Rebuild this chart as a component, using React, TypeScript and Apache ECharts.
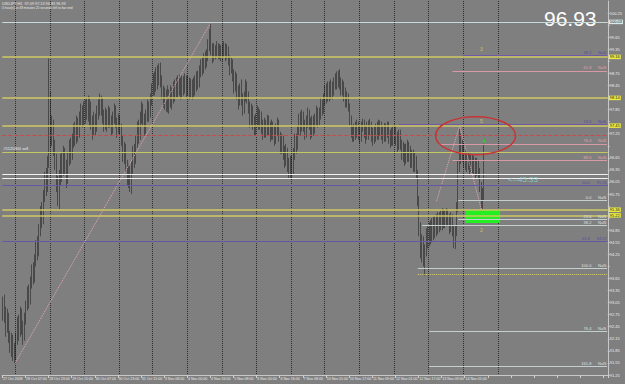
import React, { useEffect, useRef } from "react";
import * as echarts from "echarts";

// x-axis tick labels, one every 16 hourly bars
const tickLabels = [
  "27 Oct 2008", "28 Oct 07:00", "28 Oct 23:00", "29 Oct 15:00", "30 Oct 07:00", "30 Oct 23:00",
  "31 Oct 15:00", "3 Nov 08:00", "4 Nov 00:00", "4 Nov 16:00", "5 Nov 08:00", "6 Nov 00:00",
  "6 Nov 16:00", "7 Nov 08:00", "10 Nov 01:00", "10 Nov 17:00", "11 Nov 09:00", "12 Nov 01:00",
  "12 Nov 17:00", "13 Nov 09:00", "14 Nov 01:00",
];

// USDJPY H1 candles: [open, close, low, high]
const week1 = [
  [92.95,93.10,92.60,93.20],[93.10,92.80,92.55,93.25],[92.80,92.45,92.20,92.95],[92.45,92.70,92.30,92.90],
  [92.70,92.20,92.05,92.80],[92.20,91.95,91.80,92.35],[91.95,92.15,91.70,92.30],[92.15,91.80,91.60,92.25],
  [91.80,91.70,91.52,92.05],[91.70,92.10,91.62,92.30],[92.10,92.55,92.00,92.70],[92.55,92.30,92.10,92.75],
  [92.30,92.75,92.20,92.95],[92.75,92.45,92.25,92.90],[92.45,92.20,92.00,92.60],[92.20,92.60,92.10,92.80],
  [92.60,92.95,92.50,93.10],[92.95,93.30,92.85,93.45],[93.30,93.10,92.90,93.50],[93.10,93.55,93.00,93.70],
  [93.55,93.85,93.40,94.00],[93.85,93.65,93.50,94.05],[93.65,94.10,93.55,94.25],[94.10,94.45,93.95,94.60],
  [94.45,94.30,94.10,94.70],[94.30,94.85,94.20,95.00],[94.85,95.30,94.70,95.45],[95.30,95.10,94.90,95.55],
  [95.10,95.70,95.00,95.85],[95.70,96.15,95.55,96.30],[96.15,95.90,95.70,96.40],[95.90,96.55,95.80,96.70],
  [96.55,97.95,96.40,99.12],[97.95,97.15,96.90,98.30],[97.15,97.45,96.95,97.70],[97.45,96.95,96.70,97.60],
  [96.95,96.60,96.35,97.10],[96.60,96.05,95.80,96.75],[96.05,95.70,95.45,96.20],[95.70,96.20,95.37,96.35],
  [96.20,96.55,95.95,96.75],[96.55,96.30,96.05,96.80],[96.30,96.75,96.20,96.95],[96.75,96.45,96.25,96.90],
  [96.45,96.10,95.90,96.60],[96.10,96.60,96.00,96.80],[96.60,96.95,96.45,97.10],[96.95,96.70,96.50,97.15],
  [96.70,97.05,96.60,97.25],[97.05,97.35,96.90,97.50],[97.35,97.10,96.95,97.55],[97.10,97.50,97.00,97.70],
  [97.50,97.25,97.05,97.65],[97.25,97.60,97.15,97.80],[97.60,97.85,97.45,98.00],[97.85,97.55,97.40,97.95],
  [97.55,97.90,97.45,98.05],[97.90,97.70,97.50,98.10],[97.70,98.00,97.60,98.15],[98.00,97.80,97.55,98.20],
  [97.80,97.95,97.45,98.17],[97.95,97.55,97.35,98.05],[97.55,97.30,97.10,97.70],[97.30,97.65,97.20,97.80],
  [97.65,97.40,97.20,97.75],[97.40,97.75,97.30,97.95],[97.75,98.00,97.60,98.10],[98.00,97.85,97.70,98.25],
  [97.85,98.05,97.70,98.20],[98.05,97.70,97.50,98.15],[97.70,97.45,97.30,97.85],[97.45,97.70,97.35,97.90],
  [97.70,97.50,97.30,97.85],[97.50,97.80,97.40,97.95],[97.80,97.60,97.40,97.90],[97.60,97.35,97.20,97.70],
  [97.35,97.65,97.25,97.80],[97.65,97.85,97.50,98.00],[97.85,97.55,97.40,97.95],[97.55,97.35,97.15,97.65],
  [97.35,97.60,97.25,97.75],[97.60,97.40,97.20,97.70],[97.40,97.10,96.95,97.50],[97.10,96.70,96.55,97.20],
  [96.70,96.95,96.50,97.05],[96.95,96.50,96.30,97.00],[96.50,96.10,95.95,96.60],[96.10,96.35,95.90,96.50],
  [96.35,95.95,95.80,96.45],[95.95,96.40,95.75,96.55],[96.40,96.80,96.25,96.95],[96.80,96.60,96.40,97.00],
  [96.60,97.05,96.50,97.20],[97.05,97.40,96.90,97.55],[97.40,97.20,97.00,97.60],[97.20,97.65,97.10,97.80],
  [97.65,97.90,97.50,98.05],[97.90,97.60,97.45,98.00],[97.60,97.35,97.20,97.75],[97.35,97.70,97.25,97.85],
  [97.70,97.95,97.55,98.10],[97.95,97.75,97.55,98.05],[97.75,98.10,97.65,98.25],[98.10,98.35,97.95,98.50],
];
const week2 = [
  [98.35,98.60,98.20,98.75],[98.60,98.40,98.20,98.80],[98.40,98.75,98.30,98.90],[98.75,98.55,98.35,98.95],
  [98.55,98.85,98.45,99.00],[98.85,98.60,98.40,99.02],[98.60,98.30,98.10,98.70],[98.30,98.05,97.90,98.45],
  [98.05,98.25,97.85,98.40],[98.25,97.95,97.80,98.35],[97.95,98.20,97.78,98.45],[98.20,98.00,97.75,98.35],
  [98.00,98.30,97.90,98.45],[98.30,98.10,97.85,98.40],[98.10,98.40,98.00,98.55],[98.40,98.25,98.05,98.60],
  [98.25,98.50,98.15,98.65],[98.50,98.35,98.15,98.70],[98.35,98.55,98.20,98.72],[98.55,98.30,98.10,98.65],
  [98.30,98.50,98.15,98.70],[98.50,98.40,98.20,98.68],[98.40,98.60,98.25,98.75],[98.60,98.35,98.15,98.70],
  [98.35,98.55,98.20,98.70],[98.55,98.30,98.10,98.65],[98.30,98.45,98.15,98.62],[98.45,98.25,98.10,98.60],
  [98.25,98.50,98.15,98.65],[98.50,98.40,98.20,98.70],[98.40,98.65,98.30,98.80],[98.65,98.50,98.35,98.82],
  [98.50,98.80,98.40,98.95],[98.80,99.00,98.65,99.10],[99.00,98.85,98.70,99.15],[98.85,99.10,98.75,99.25],
  [99.10,99.00,98.85,99.30],[99.00,99.20,98.90,99.35],[99.20,99.45,99.05,99.60],[99.45,99.70,99.30,99.85],
  [99.70,99.35,99.20,100.03],[99.35,99.15,99.00,99.50],[99.15,99.35,99.05,99.50],[99.35,99.25,99.10,99.45],
  [99.25,99.40,99.15,99.55],[99.40,99.20,99.10,99.50],[99.20,99.35,99.10,99.48],[99.35,99.15,99.05,99.45],
  [99.15,99.30,99.05,99.50],[99.30,99.40,99.15,99.55],[99.40,99.20,99.05,99.50],[99.20,99.35,99.10,99.48],
  [99.35,99.10,98.95,99.42],[99.10,98.85,98.70,99.20],[98.85,99.05,98.75,99.15],[99.05,98.70,98.55,99.10],
  [98.70,98.40,98.25,98.85],[98.40,98.65,98.30,98.80],[98.65,98.30,98.10,98.75],[98.30,98.05,97.85,98.45],
  [98.05,98.35,97.95,98.50],[98.35,98.10,97.95,98.60],[98.10,97.85,97.70,98.25],[97.85,98.15,97.75,98.30],
  [98.15,98.45,98.05,98.60],[98.45,98.20,98.00,98.55],[98.20,97.90,97.75,98.30],[97.90,97.60,97.40,98.05],
  [97.60,97.85,97.45,98.00],[97.85,97.55,97.35,97.95],[97.55,97.30,97.20,97.70],[97.30,97.60,97.20,97.75],
  [97.60,97.80,97.45,97.95],[97.80,97.50,97.35,97.90],[97.50,97.70,97.35,97.85],[97.70,97.45,97.25,97.80],
  [97.45,97.25,97.10,97.60],[97.25,97.50,97.15,97.65],[97.50,97.35,97.15,97.60],[97.35,97.60,97.20,97.72],
  [97.60,97.40,97.20,97.70],[97.40,97.20,97.05,97.55],[97.20,97.45,97.10,97.60],[97.45,97.30,97.10,97.55],
  [97.30,97.10,96.95,97.45],[97.10,97.35,97.00,97.50],[97.35,97.55,97.20,97.65],[97.55,97.20,97.05,97.60],
  [97.20,96.90,96.75,97.30],[96.90,97.15,96.75,97.25],[97.15,96.80,96.60,97.20],[96.80,96.55,96.40,96.95],
  [96.55,96.85,96.45,97.00],[96.85,96.50,96.30,96.90],[96.50,96.30,96.15,96.65],[96.30,96.55,96.12,96.70],
  [96.55,96.35,96.11,96.70],[96.35,96.75,96.25,96.90],[96.75,97.10,96.60,97.25],[97.10,96.90,96.75,97.25],
  [96.90,97.30,96.85,97.45],[97.30,97.60,97.20,97.75],[97.60,97.40,97.20,97.80],[97.40,97.70,97.30,97.85],
  [97.70,97.50,97.30,97.80],[97.50,97.25,97.10,97.60],[97.25,97.55,97.15,97.70],[97.55,97.75,97.40,97.90],
  [97.75,97.50,97.35,97.85],[97.50,97.30,97.10,97.65],[97.30,97.55,97.15,97.70],[97.55,97.35,97.20,97.70],
  [97.35,97.60,97.25,97.75],[97.60,97.80,97.45,97.95],[97.80,97.55,97.40,97.90],[97.55,97.75,97.45,97.90],
  [97.75,98.00,97.60,98.15],[98.00,97.85,97.70,98.10],[97.85,98.10,97.75,98.25],
];
const week3 = [
  [98.10,98.30,97.95,98.45],[98.30,98.15,98.00,98.50],[98.15,98.40,98.05,98.55],[98.40,98.20,98.05,98.55],
  [98.20,98.45,98.10,98.60],[98.45,98.30,98.10,98.55],[98.30,98.50,98.20,98.65],[98.50,98.65,98.35,98.75],
  [98.65,98.50,98.35,98.80],[98.50,98.70,98.40,98.82],[98.70,98.55,98.35,98.85],[98.55,98.35,98.20,98.65],
  [98.35,98.50,98.20,98.60],[98.50,98.25,98.05,98.55],[98.25,98.05,97.90,98.40],[98.05,98.20,97.90,98.30],
  [98.20,97.95,97.80,98.25],[97.95,97.60,97.45,98.00],[97.60,97.30,97.15,97.70],[97.30,97.15,97.05,97.45],
  [97.15,97.40,97.05,97.50],[97.40,97.25,97.10,97.55],[97.25,97.50,97.15,97.60],[97.50,97.30,97.10,97.55],
  [97.30,97.15,97.00,97.45],[97.15,97.40,97.05,97.55],[97.40,97.55,97.30,97.62],[97.55,97.35,97.15,97.60],
  [97.35,97.20,97.00,97.45],[97.20,97.45,97.10,97.55],[97.45,97.30,97.10,97.58],[97.30,97.50,97.20,97.62],
  [97.50,97.25,97.05,97.55],[97.25,97.10,96.95,97.40],[97.10,97.35,97.00,97.45],[97.35,97.20,97.05,97.50],
  [97.20,97.45,97.10,97.55],[97.45,97.30,97.10,97.60],[97.30,97.50,97.20,97.58],[97.50,97.30,97.10,97.55],
  [97.30,97.15,97.00,97.45],[97.15,97.40,97.05,97.52],[97.40,97.25,97.05,97.50],[97.25,97.45,97.15,97.55],
  [97.45,97.20,97.00,97.55],[97.20,97.05,96.90,97.35],[97.05,97.30,96.95,97.40],[97.30,97.10,96.95,97.45],
  [97.10,97.35,97.00,97.50],[97.35,97.15,96.95,97.45],[97.15,96.95,96.80,97.30],[96.95,97.20,96.85,97.35],
  [97.20,97.00,96.85,97.35],[97.00,96.75,96.60,97.10],[96.75,96.95,96.55,97.05],[96.95,96.60,96.45,97.00],
  [96.60,96.85,96.50,97.00],[96.85,96.70,96.55,97.10],[96.70,96.90,96.55,97.05],[96.90,96.55,96.40,96.95],
  [96.55,96.75,96.40,96.85],[96.75,96.45,96.30,96.85],[96.45,96.65,96.30,96.80],[96.65,96.30,96.15,96.70],
  [96.30,95.60,95.45,96.35],[95.60,94.90,94.70,95.70],[94.90,94.30,94.15,95.05],[94.30,94.60,94.05,94.75],
  [94.60,94.10,93.95,94.70],[94.10,94.35,93.72,94.50],[94.35,94.75,94.20,94.90],[94.75,94.55,94.40,94.95],
  [94.55,94.90,94.45,95.05],[94.90,94.65,94.50,95.10],[94.65,95.00,94.55,95.15],[95.00,94.75,94.60,95.20],
  [94.75,95.05,94.65,95.20],[95.05,94.85,94.70,95.25],[94.85,95.15,94.75,95.30],[95.15,94.95,94.80,95.30],
  [94.95,95.20,94.85,95.35],[95.20,95.00,94.85,95.40],[95.00,95.25,94.90,95.38],[95.25,95.05,94.90,95.35],
  [95.05,95.30,94.95,95.40],[95.30,95.10,94.95,95.38],[95.10,94.90,94.75,95.25],[94.90,95.15,94.80,95.30],
  [95.15,94.85,94.70,95.25],[94.85,94.55,94.40,94.95],[94.55,94.80,94.38,94.95],[94.80,95.40,94.70,95.55],
  [95.40,96.45,95.30,96.60],[96.45,97.10,96.30,97.37],[97.10,96.70,96.50,97.25],[96.70,96.95,96.55,97.10],
  [96.95,96.55,96.40,97.05],[96.55,96.75,96.35,96.85],[96.75,96.50,96.30,96.80],[96.50,96.70,96.35,96.78],
  [96.70,96.45,96.25,96.75],[96.45,96.65,96.30,96.75],[96.65,96.40,96.20,96.72],[96.40,96.60,96.25,96.70],
  [96.60,96.35,96.15,96.65],[96.35,96.55,96.20,96.65],[96.55,96.30,96.15,96.60],[96.30,95.95,95.80,96.40],
  [95.95,95.55,95.40,96.05],[95.55,95.70,95.37,95.90],[95.70,96.93,95.60,97.00],
];
const candles = [...week1, ...week2, ...week3];
const totalSlots = 419;
const dayStarts = [9, 33, 57, 81, 104, 128, 152, 176, 200, 223, 247, 271, 295, 319, 343];

// horizontal levels (prices)
const topLevel = 100.03;
const yellowLevels = [99.16, 98.14, 97.45, 95.36, 95.22];
const redDashedLevel = 97.2;
const orderLevel = 96.8;
const orderText = "#5120300 sell";
const whiteLevels = [96.23, 96.14];
const purpleNames = ["50.0", "61.8"];
const purpleLevels = [95.96, 94.57];
const purpleShortNames = ["38.2", "23.6"];
const purpleShortLevels = [99.2, 97.48];
const purpleShortStart = [318, 274];
const pinkNames = ["61.8", "76.4", "88.6"];
const pinkLevels = [98.81, 97.0, 96.58];
const pinkStart = [311, 302, 311];
const lightNames = ["0.0", "23.6", "38.2", "100.0", "76.4", "161.8"];
const lightLevels = [95.59, 95.12, 94.97, 93.9, 92.34, 91.47];
const lightStart = [315, 315, 290, 287, 295, 295];
const dottedYellowLevel = 93.75;
const dottedYellowStart = 287;
const bidPrice = 96.93;

// green zone
const zoneFrom = [320, 95.35];
const zoneTo = [344, 95.03];

// zigzag pivots [bar, price]
const zigzagA = [[8, 91.52], [144, 100.03]];
const zigzagB = [[300, 95.57], [316, 97.45], [331, 95.37]];

// wave markers
const markerBars = [331, 331, 331, 331];
const markerPrices = [99.36, 97.57, 95.27, 94.85];
const markerTexts = ["3", "5", "4", "2"];
const noteBar = 346;
const notePrice = 96.11;
const noteText = "<--45.33";
const arrowBar = 333;
const arrowPrice = 97.08;
const ellipseCenter = [327, 97.2];

const headerLine1 = "USDJPY,H1  97.09 97.13 96.83 96.93";
const headerLine2 = "0 hour(s) or 48 minutes 20 seconds left to bar end";

export default function App() {
  const ref = useRef<HTMLDivElement>(null);
  useEffect(() => {
    if (!ref.current) return;
    const chart = echarts.init(ref.current, undefined, { renderer: "svg" });
    const axisBox = (bg: string, fg: string) => ({
      show: true, position: "end", distance: 1, fontSize: 4, lineHeight: 4.5, color: fg, backgroundColor: bg,
      padding: [0, 1], formatter: (p: any) => Number(p.value).toFixed(2),
    });
    const fibLabel = (color: string) => ({
      show: true, position: "insideEndTop", distance: 1, fontSize: 4, color,
      formatter: (p: any) => `${p.name}      ${Number(p.value).toFixed(2)}`,
    });
    const last = totalSlots - 1;
    const boxPrices = [topLevel, ...yellowLevels, orderLevel, bidPrice, lightLevels[3]];
    const lines: any[] = [];
    lines.push({ yAxis: topLevel, lineStyle: { color: "#c6dada", width: 1.2, type: "solid" }, label: axisBox("#d8e8e8", "#202020") });
    yellowLevels.forEach((v) => lines.push({ yAxis: v, lineStyle: { color: "#cfc862", width: 1.6, type: "solid" }, label: axisBox("#ecec40", "#202020") }));
    lines.push({ yAxis: redDashedLevel, lineStyle: { color: "#c84a4a", width: 1, type: "dashed" }, label: { show: false } });
    lines.push({ yAxis: orderLevel, lineStyle: { color: "#c4c860", width: 1.2, type: "solid" },
      label: { show: true, position: "insideStartTop", distance: 1, fontSize: 4, color: "#f0f0f0", formatter: orderText } });
    lines.push({ yAxis: orderLevel, lineStyle: { opacity: 0 }, label: axisBox("#ecec40", "#202020") });
    whiteLevels.forEach((v) => lines.push({ yAxis: v, lineStyle: { color: "#f2f2f2", width: 1, type: "solid" }, label: { show: false } }));
    purpleLevels.forEach((v, k) => lines.push({ yAxis: v, name: purpleNames[k], lineStyle: { color: "#6656a8", width: 1, type: "solid" }, label: fibLabel("#5a4aa0") }));
    lines.push({ yAxis: bidPrice, lineStyle: { opacity: 0 }, label: axisBox("#101010", "#ffffff") });
    const seg = (start: number, v: number, name: string, color: string, type: string, label: any) => [
      { xAxis: start, yAxis: v, name, lineStyle: { color, width: 1, type }, label },
      { xAxis: last, yAxis: v },
    ];
    purpleShortLevels.forEach((v, k) => lines.push(seg(purpleShortStart[k], v, purpleShortNames[k], "#6e58a8", "solid", fibLabel("#5a4aa0"))));
    pinkLevels.forEach((v, k) => lines.push(seg(pinkStart[k], v, pinkNames[k], "#d898a6", "solid", fibLabel("#e2a0ae"))));
    lightLevels.forEach((v, k) => lines.push(seg(lightStart[k], v, lightNames[k], "#c4d0d0", "solid", fibLabel("#dce4e4"))));
    lines.push(seg(dottedYellowStart, dottedYellowLevel, "", "#d8d05c", "dotted", { show: false }));
    lines.push({ yAxis: lightLevels[3], lineStyle: { opacity: 0 }, label: axisBox("#ecec40", "#202020") });

    const markerColors = ["#e0d460", "#e0d460", "#40e040", "#e0d460"];
    chart.setOption({
      animation: false,
      backgroundColor: "#7f7f7f",
      grid: { left: 0, right: 14, top: 1, bottom: 9 },
      xAxis: {
        type: "category",
        data: Array.from({ length: totalSlots }, (_, i) => String(i)),
        boundaryGap: true,
        axisLine: { lineStyle: { color: "#c8c8c8", width: 1 } },
        axisTick: { show: true, interval: 15, length: 3, lineStyle: { color: "#d0d0d0" } },
        axisLabel: {
          interval: 15, fontSize: 3.6, fontFamily: "Liberation Sans", color: "#ececec", margin: 2, align: "left",
          formatter: (_v: string, idx: number) => tickLabels[idx / 16] ?? "",
        },
        splitLine: { show: true, interval: (idx: number) => dayStarts.includes(idx), lineStyle: { color: "#2e2e2e", type: "dotted", width: 1 } },
      },
      yAxis: {
        type: "value", position: "right", min: 91.25, max: 100.55, interval: 0.3, scale: true,
        axisLine: { show: true, lineStyle: { color: "#c8c8c8", width: 1 } },
        axisTick: { show: true, length: 2, lineStyle: { color: "#c8c8c8" } },
        axisLabel: {
          fontSize: 4, color: "#ececec", margin: 2, showMaxLabel: false,
          formatter: (v: number) => (boxPrices.some((b) => Math.abs(b - v) < 0.14) ? "" : v.toFixed(2)),
        },
        splitLine: { show: false },
      },
      series: [
        {
          type: "candlestick", name: "USDJPY", data: candles, barWidth: 0.7,
          itemStyle: { color: "#3f9090", color0: "#903046", borderColor: "#151515", borderColor0: "#151515", borderWidth: 0.5 },
          markLine: { silent: true, symbol: ["none", "none"], data: lines },
          markArea: { silent: true, itemStyle: { color: "#22ee22" }, data: [[{ coord: zoneFrom }, { coord: zoneTo }]] },
        },
        { type: "line", data: zigzagA, symbol: "none", lineStyle: { color: "#e8a8b8", width: 1, type: "dotted" } },
        { type: "line", data: zigzagB, symbol: "none", lineStyle: { color: "#e8a8b8", width: 1, type: "dotted" } },
        {
          type: "scatter", symbolSize: 0,
          data: markerBars.map((b, k) => ({ value: [b, markerPrices[k]], label: { color: markerColors[k], formatter: markerTexts[k] } })),
          label: { show: true, position: "inside", fontSize: 5 },
        },
        {
          type: "scatter", symbolSize: 0, z: 10,
          data: [[noteBar, notePrice]],
          label: { show: true, position: "right", fontSize: 8, color: "#88dede", fontFamily: "Liberation Sans", formatter: noteText },
        },
        { type: "scatter", symbol: "triangle", symbolSize: 4, itemStyle: { color: "#30d030" }, data: [[arrowBar, arrowPrice]] },
      ],
    });
    const c = chart.convertToPixel({ gridIndex: 0 }, ellipseCenter as any) as number[];
    chart.setOption({
      graphic: [
        { type: "text", left: 2, top: 2, style: { text: headerLine1, fontSize: 3.8, fill: "#e8e8e8" } },
        { type: "text", left: 2, top: 6, style: { text: headerLine2, fontSize: 3.2, fill: "#e8e8e8" } },
        { type: "text", left: 544, top: 8, style: { text: "96.93", fontSize: 21, fill: "#ffffff", fontFamily: "Liberation Sans" } },
        { type: "ellipse", shape: { cx: c[0], cy: c[1], rx: 40, ry: 19 }, style: { fill: "none", stroke: "#c83434", lineWidth: 1.5 }, z: 100 },
      ],
    });
    return () => chart.dispose();
  }, []);
  return <div ref={ref} style={{ position: "fixed", left: 0, top: 0, width: 625, height: 384 }} />;
}
